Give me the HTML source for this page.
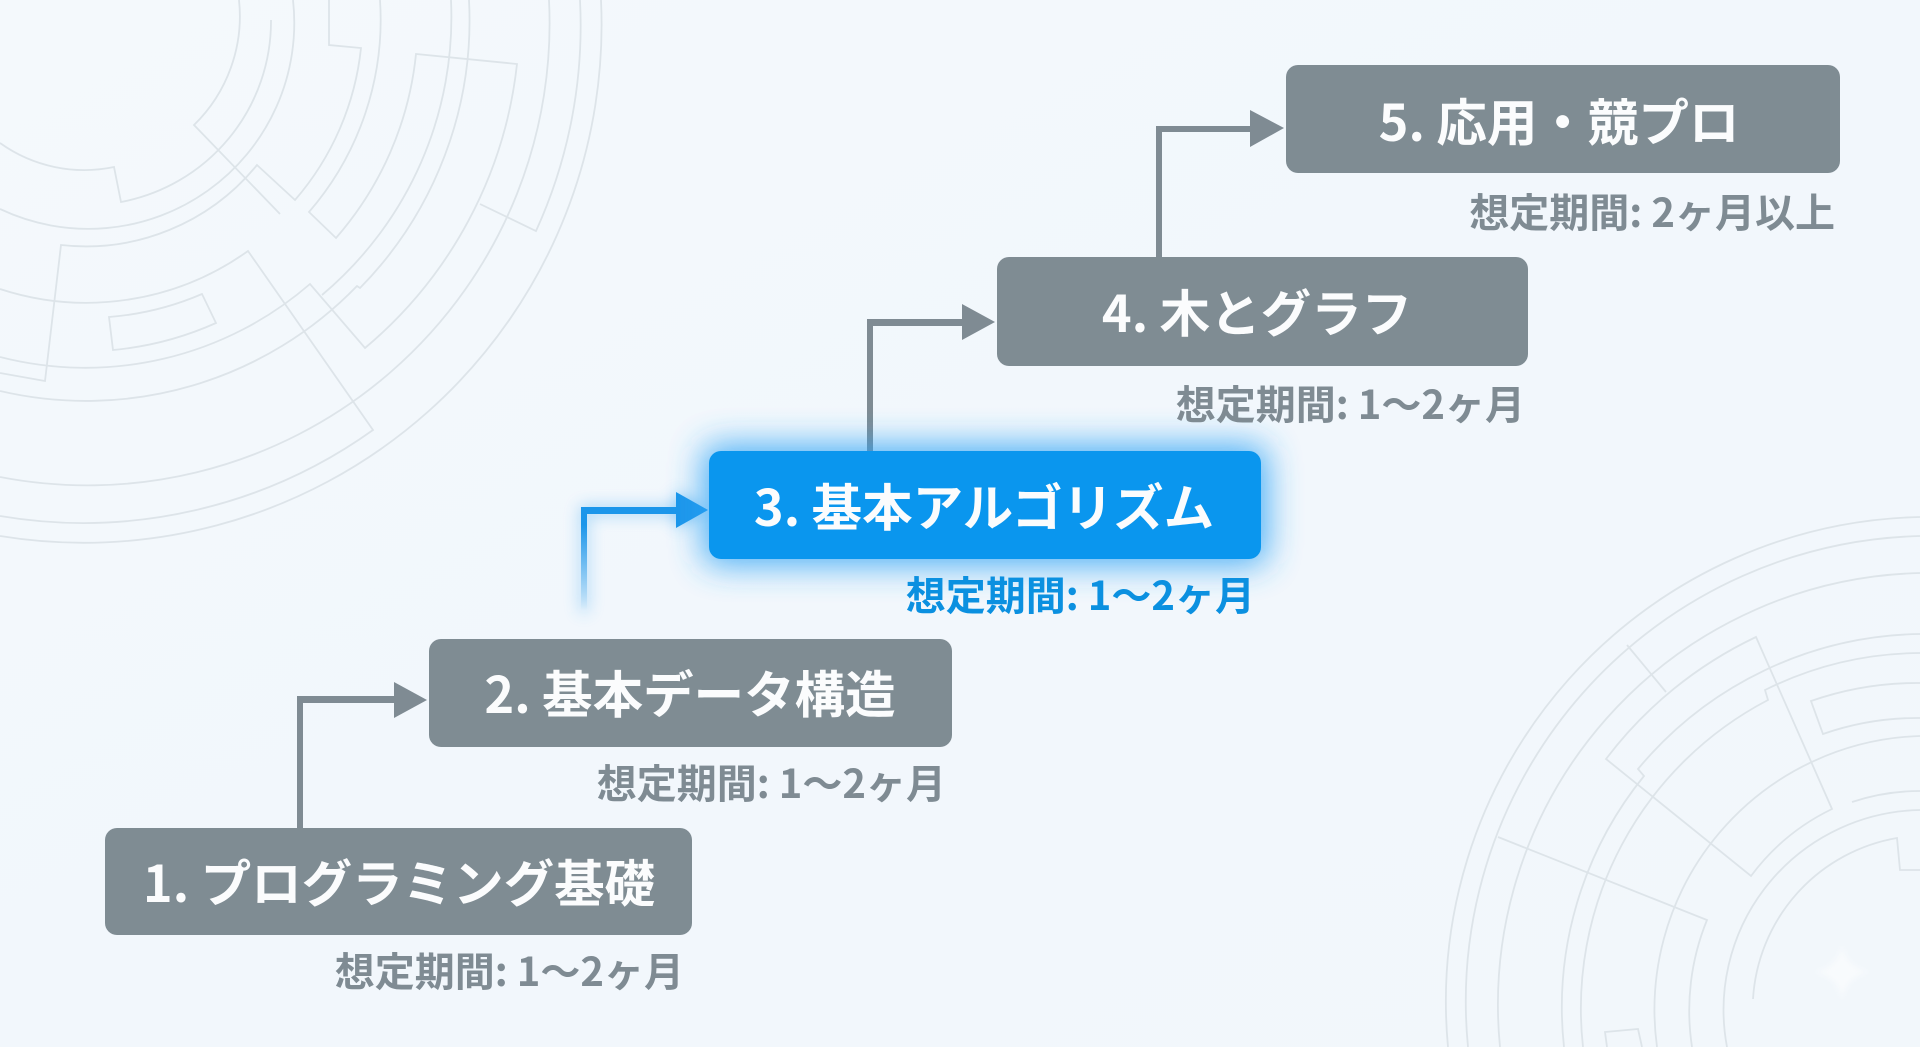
<!DOCTYPE html>
<html lang="ja"><head><meta charset="utf-8"><title>学習ロードマップ</title>
<style>
html,body{margin:0;padding:0;width:1920px;height:1047px;overflow:hidden;background:#f3f8fc}
svg{display:block}
text{font-family:"Noto Sans CJK JP","Liberation Sans",sans-serif;font-weight:700}
.t{font-size:50.5px;fill:#fbfcfd;text-anchor:middle}
.c{font-size:40px;fill:#7f8b93;text-anchor:end}
</style></head><body>
<svg width="1920" height="1047" viewBox="0 0 1920 1047" xmlns="http://www.w3.org/2000/svg">
<defs>
<linearGradient id="bg" x1="0" y1="0" x2="1" y2="1"><stop offset="0" stop-color="#f4f9fc"/><stop offset=".5" stop-color="#f2f7fc"/><stop offset="1" stop-color="#f2f7fb"/></linearGradient>
<linearGradient id="fade" gradientUnits="userSpaceOnUse" x1="0" y1="525" x2="0" y2="610"><stop offset="0" stop-color="#1c96ea"/><stop offset="1" stop-color="#1c96ea" stop-opacity="0"/></linearGradient>
<filter id="b12" x="-50%" y="-50%" width="200%" height="200%"><feGaussianBlur stdDeviation="17"/></filter>
<filter id="b6" x="-300%" y="-50%" width="700%" height="200%"><feGaussianBlur stdDeviation="8"/></filter>
<filter id="b3" x="-50%" y="-50%" width="200%" height="200%"><feGaussianBlur stdDeviation="3"/></filter>
</defs>
<rect width="1920" height="1047" fill="url(#bg)"/>

<g fill="none" stroke="#dde4e9" stroke-width="1.8" stroke-linejoin="miter">
<!-- top-left rings -->
<path d="M239 0A152 152 0 0 1 194 125L280 214"/>
<path d="M271 20A184 184 0 0 1 121 202L114 167A145 145 0 0 1 0 143"/>
<path d="M293 0A206 206 0 0 1 0 209"/>
<path d="M329 0L329 45L361 48A276 276 0 0 1 295 200L257 165A221 221 0 0 1 61 245L45 381L0 373"/>
<path d="M380 0A294 294 0 0 1 309 212L336 238A330 330 0 0 0 416 54L517 64A432 432 0 0 1 365 348L310 284A343 343 0 0 1 0 357"/>
<path d="M0 289A278 278 0 0 0 248 251L373 430A498 498 0 0 1 0 516"/>
<path d="M480 204L536 231A495 495 0 0 0 580 0"/>
<path d="M549 0A462 462 0 0 1 0 477"/>
<path d="M469 0A382 382 0 0 1 360 288L357 286A377 377 0 0 1 0 391"/>
<path d="M451 0A363 363 0 0 1 322 295"/>
<path d="M109 317A293 293 0 0 0 202 294L216 323A325 325 0 0 1 113 350Z"/>
<path d="M601 0A518 518 0 0 1 0 536"/>
<!-- bottom-right rings -->
<path d="M1920 517A485 485 0 0 0 1448 1047"/>
<path d="M1920 536A466 466 0 0 0 1468 1047"/>
<path d="M1627 645L1666 692"/>
<path d="M1920 573A432 432 0 0 0 1500 1047"/>
<path d="M1756 637A407 407 0 0 0 1606 759L1751 876A220 220 0 0 1 1832 809Z"/>
<path d="M1498 837L1707 920A240 240 0 0 0 1692 1047"/>
<path d="M1920 634A373 373 0 0 0 1638 769L1644 776A367 367 0 0 0 1564 1047"/>
<path d="M1920 653A352 352 0 0 0 1765 690L1768 700A348 348 0 0 0 1583 1047"/>
<path d="M1920 683A322 322 0 0 0 1811 701L1823 734A287 287 0 0 1 1920 718"/>
<path d="M1920 736A274 274 0 0 0 1657 1047"/>
<path d="M1920 791A214 214 0 0 0 1852 802"/>
<path d="M1920 810A200 200 0 0 0 1727 1047"/>
<path d="M1920 870L1900 870L1897 838A174 174 0 0 0 1753 999"/>
<path d="M1607 1047L1605 1032L1638 1029L1642 1047"/>
</g>
<path d="M1842 945Q1846 968 1870 972Q1846 976 1842 1000Q1838 976 1814 972Q1838 968 1842 945Z" fill="#fff" opacity=".5" filter="url(#b3)"/>

<!-- connectors: gray -->
<g fill="#7f8b93">
<rect x="297" y="696" width="6" height="132"/><rect x="297" y="696" width="100" height="7"/><polygon points="394,682 427,700 394,718"/>
<rect x="867" y="319" width="6" height="133"/><rect x="867" y="319" width="98" height="7"/><polygon points="962,304 995,322 962,340"/>
<rect x="1156" y="126" width="6" height="132"/><rect x="1156" y="126" width="97" height="6"/><polygon points="1250,110 1284,128 1250,147"/>
</g>

<!-- connector: blue -->
<g filter="url(#b6)" opacity=".6">
<rect x="581" y="507" width="6" height="105" fill="#3aa6f2"/><rect x="581" y="507" width="98" height="7" fill="#3aa6f2"/><polygon points="676,492 708,510 676,528" fill="#3aa6f2"/>
</g>
<rect x="581" y="507" width="6" height="103" fill="url(#fade)"/>
<rect x="581" y="507" width="98" height="7" fill="#1c96ea"/>
<polygon points="676,492 708,510 676,528" fill="#1c96ea"/>

<!-- nodes -->
<rect x="105" y="828" width="587" height="107" rx="12" fill="#7f8c93"/>
<rect x="429" y="639" width="523" height="108" rx="12" fill="#7f8c93"/>
<rect x="703" y="445" width="564" height="120" rx="14" fill="#2ba2f5" filter="url(#b12)" opacity=".85"/>
<rect x="709" y="451" width="552" height="108" rx="12" fill="#0a96ee"/>
<rect x="997" y="257" width="531" height="109" rx="12" fill="#7f8c93"/>
<rect x="1286" y="65" width="554" height="108" rx="12" fill="#7f8c93"/>

<text class="t" x="399" y="902">1. プログラミング基礎</text>
<text class="t" x="690" y="713">2. 基本データ構造</text>
<text class="t" x="984" y="526">3. 基本アルゴリズム</text>
<text class="t" x="1257" y="332">4. 木とグラフ</text>
<text class="t" x="1559" y="141">5. 応用・競プロ</text>

<text class="c" x="684" y="986">想定期間: 1〜2ヶ月</text>
<text class="c" x="946" y="798">想定期間: 1〜2ヶ月</text>
<text class="c" x="1255" y="610" style="fill:#0b90e0">想定期間: 1〜2ヶ月</text>
<text class="c" x="1525" y="419">想定期間: 1〜2ヶ月</text>
<text class="c" x="1835" y="227">想定期間: 2ヶ月以上</text>
</svg>
</body></html>
